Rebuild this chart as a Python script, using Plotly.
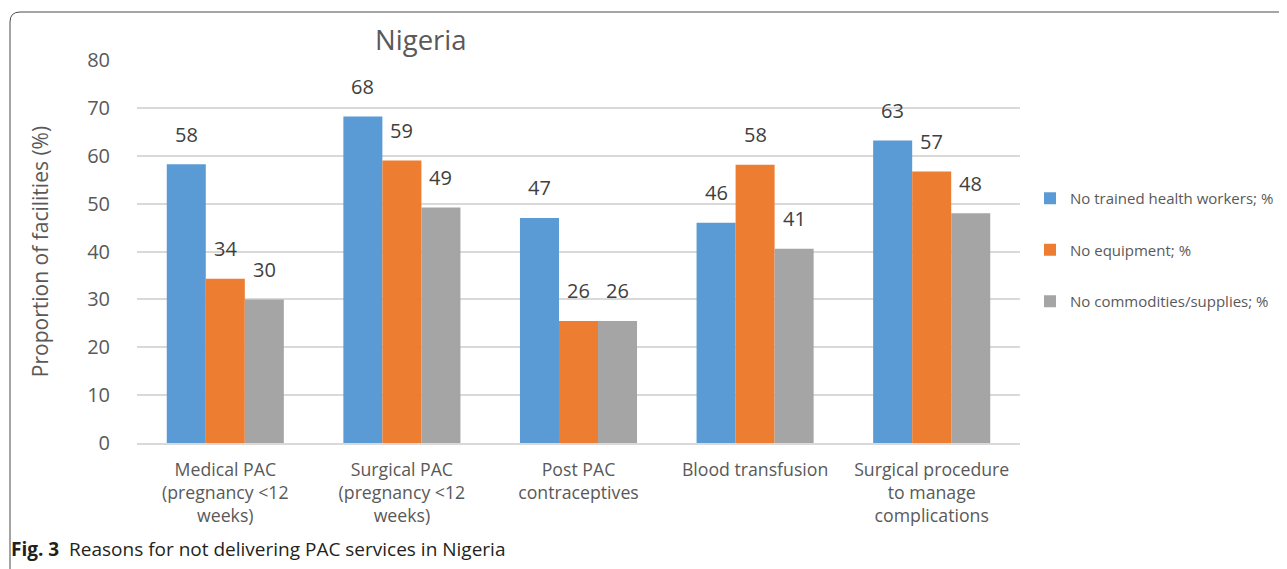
import plotly.graph_objects as go

categories = ["Medical PAC<br>(pregnancy <12<br>weeks)", "Surgical PAC<br>(pregnancy <12<br>weeks)",
              "Post PAC<br>contraceptives", "Blood transfusion",
              "Surgical procedure<br>to manage<br>complications"]
series_names = ["No trained health workers; %", "No equipment; %", "No commodities/supplies; %"]
trained = [58.2, 68.2, 47.0, 46.0, 63.2]
equipment = [34.3, 59.0, 25.5, 58.1, 56.7]
commodities = [30.0, 49.2, 25.5, 40.6, 48.0]
labels_trained = ["58", "68", "47", "46", "63"]
labels_equipment = ["34", "59", "26", "58", "57"]
labels_commodities = ["30", "49", "26", "41", "48"]
colors = ["#5B9BD5", "#ED7D31", "#A5A5A5"]
y_ticks = [0, 10, 20, 30, 40, 50, 60, 70, 80]

OFF = 8  # browser body margin
W, H = 1287 - OFF, 569 - OFF
ML = 137 - OFF
MT = 60 - OFF
MR = W - (1020 - OFF)
MB = H - (443 - OFF)
PW = W - ML - MR
PH = H - MT - MB

def px_x(p):
    return (p - OFF - ML) / PW

def px_y(p):
    return (H - MB - (p - OFF)) / PH

FONT = "Open Sans"
TXT = "#595959"

fig = go.Figure()
all_series = [trained, equipment, commodities]
all_labels = [labels_trained, labels_equipment, labels_commodities]
for i, (name, vals) in enumerate(zip(series_names, all_series)):
    fig.add_trace(go.Bar(x=categories, y=vals, name=name, marker_color=colors[i],
                         marker_line_width=0, legendgroup=str(i)))

bar_px = PW / len(categories) * (1 - 0.337) / 3
for i, (vals, labs) in enumerate(zip(all_series, all_labels)):
    for c, v, t in zip(categories, vals, labs):
        fig.add_annotation(x=c, y=v, text=t, showarrow=False,
                           xshift=(i - 1) * bar_px, yshift=30,
                           font=dict(family=FONT, size=20, color="#404040"))

r = 10
x0, y0 = px_x(10), px_y(12)
x1, y1 = px_x(1320), px_y(600)
rx, ry = r / PW, r / PH
path = (f"M {x0},{y1} L {x0},{y0 - ry} Q {x0},{y0} {x0 + rx},{y0} L {x1},{y0}")
fig.add_shape(type="path", path=path, xref="paper", yref="paper",
              line=dict(color="#4a4a4a", width=1))

fig.add_annotation(x=px_x(9), y=px_y(549), xref="paper", yref="paper", xanchor="left",
                   yanchor="middle", showarrow=False,
                   text="<b>Fig. 3</b>  Reasons for not delivering PAC services in Nigeria",
                   font=dict(family=FONT, size=19, color="#231f20"))

fig.update_layout(
    width=W, height=H, margin=dict(l=ML, r=MR, t=MT, b=MB, autoexpand=False),
    paper_bgcolor="white", plot_bgcolor="white",
    barmode="group", bargap=0.337, bargroupgap=0,
    title=dict(text="Nigeria", x=px_x(422), xanchor="center", y=1 - (40 - OFF) / H, yanchor="middle",
               font=dict(family=FONT, size=27.5, color=TXT)),
    font=dict(family=FONT, color=TXT),
    showlegend=True,
    legend=dict(x=px_x(1030), y=px_y(182), xanchor="left", yanchor="top",
                font=dict(family=FONT, size=15, color=TXT), tracegroupgap=29,
                traceorder="grouped", itemwidth=30, bgcolor="rgba(0,0,0,0)"),
    xaxis=dict(showline=True, linecolor="#D9D9D9", linewidth=2, ticks="",
               tickfont=dict(family=FONT, size=17.7, color=TXT), ticklabelstandoff=10),
    yaxis=dict(range=[0, 80], tickvals=y_ticks, showgrid=True, gridcolor="#D9D9D9", gridwidth=1.5,
               zeroline=False, showline=False, ticks="",
               tickfont=dict(family=FONT, size=20, color=TXT), ticklabelstandoff=26,
               title=dict(text="Proportion of facilities (%)", standoff=32,
                          font=dict(family=FONT, size=21, color=TXT))),
)

fig.write_html("out.html")
